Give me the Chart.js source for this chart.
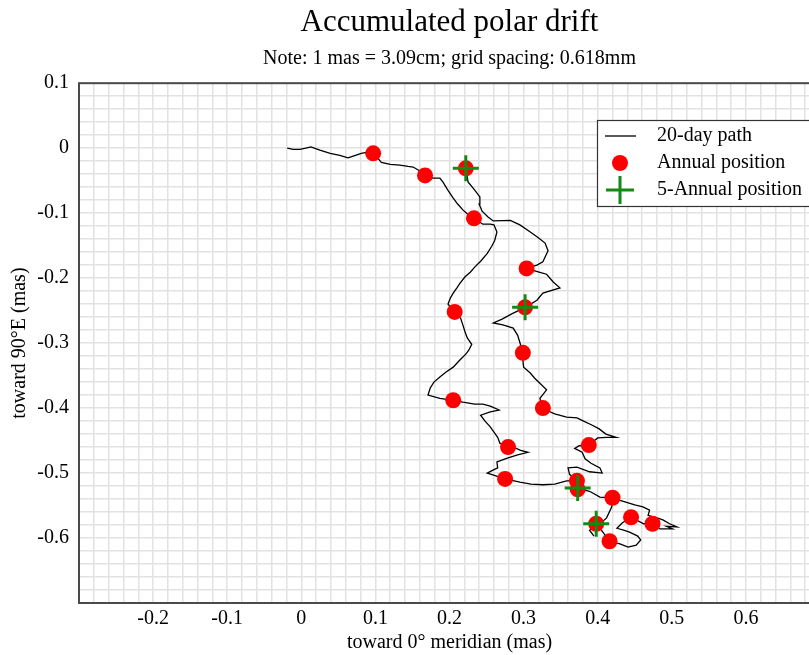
<!DOCTYPE html>
<html>
<head>
<meta charset="utf-8">
<title>Accumulated polar drift</title>
<script src="https://cdn.jsdelivr.net/npm/chart.js@4.4.0/dist/chart.umd.min.js"></script>
<style>
    html, body { margin: 0; padding: 0; background: #fff; overflow: hidden; }
    #wrap { width: 899px; height: 655px; }
</style>
</head>
<body>
<div id="wrap"><canvas id="driftChart" width="899" height="655"></canvas></div>
<script>
// --- Data (mas) ---
// 20-day path, null marks a break in the line
const pathX = [
    -0.019, -0.011, -0.002, 0.006, 0.013, 0.025, 0.039, 0.052, 0.063, 0.071, 0.081, 0.089, 0.097,
    0.103, 0.108, 0.120, 0.133, 0.144, 0.151, 0.160, 0.167,
    0.178, 0.187, 0.191, 0.198, 0.205, 0.211, 0.218, 0.225, 0.233,
    0.245, 0.255, 0.260, 0.264, 0.261, 0.257, 0.251, 0.242, 0.234, 0.228, 0.221, 0.214, 0.210, 0.205, 0.201, 0.198, 0.207,
    0.215, 0.218, 0.221, 0.224, 0.230, 0.226, 0.222, 0.214, 0.205, 0.195, 0.187, 0.179, 0.174, 0.171, 0.187, 0.205,
    0.218, 0.234, 0.245, 0.255, 0.267, 0.255, 0.242, 0.248, 0.255, 0.260, 0.265, 0.268, 0.279,
    0.290, 0.296, 0.306, 0.292, 0.278, 0.264, 0.265, 0.256, 0.251, 0.275,
    0.295, 0.310, 0.326, 0.342, 0.358, 0.372,
    0.362, 0.360, 0.372, 0.389, 0.406, 0.403, 0.391, 0.383, 0.379, 0.369, 0.375, 0.388,
    0.400, 0.412, 0.425, 0.411, 0.402, 0.392, 0.381, 0.372, 0.358, 0.342, 0.330, 0.326,
    0.322, 0.331, 0.323, 0.315, 0.309, 0.300, 0.299, 0.299,
    0.296, 0.292, 0.286, 0.272, 0.259, 0.271, 0.284, 0.302,
    0.318, 0.326, 0.349, 0.340, 0.331, 0.322, 0.304,
    0.318, 0.326, 0.333, 0.329, 0.319, 0.309, 0.295, 0.282, 0.259, 0.252, 0.244, 0.240, 0.241, 0.233, 0.225, 0.222,
    null,
    0.372, 0.373, 0.381, 0.389, 0.403, 0.420,
    0.430, 0.439, 0.450, 0.461, 0.470, 0.468, 0.480, 0.488, 0.497, 0.507, 0.493, 0.501, 0.484, 0.474,
    0.462, 0.445, 0.433, 0.426, 0.435, 0.443, 0.454, 0.458, 0.452, 0.441, 0.430, 0.416,
    0.407, 0.398, 0.407, 0.412, 0.419, 0.420,
    null,
    0.398, 0.389, 0.395
];
const pathY = [
    0.000, -0.002, -0.002, 0.000, 0.002, -0.003, -0.008, -0.011, -0.015, -0.012, -0.008, -0.006, -0.008,
    -0.015, -0.022, -0.025, -0.026, -0.028, -0.029, -0.035, -0.042,
    -0.046, -0.046, -0.052, -0.065, -0.077, -0.086, -0.095, -0.102, -0.108,
    -0.117, -0.117, -0.118, -0.129, -0.142, -0.151, -0.162, -0.174, -0.183, -0.191, -0.198, -0.208, -0.215, -0.223, -0.231, -0.240, -0.252,
    -0.262, -0.272, -0.283, -0.292, -0.302, -0.311, -0.317, -0.326, -0.337, -0.345, -0.352, -0.360, -0.369, -0.380, -0.385, -0.388,
    -0.391, -0.394, -0.394, -0.397, -0.403, -0.406, -0.411, -0.420, -0.429, -0.437, -0.445, -0.454, -0.460,
    -0.462, -0.465, -0.468, -0.472, -0.477, -0.483, -0.492, -0.497, -0.500, -0.509,
    -0.514, -0.517, -0.518, -0.517, -0.512, -0.512,
    -0.502, -0.492, -0.491, -0.498, -0.500, -0.492, -0.485, -0.478, -0.468, -0.462, -0.458, -0.457,
    -0.446, -0.445, -0.445, -0.440, -0.432, -0.426, -0.420, -0.415, -0.414, -0.409, -0.403, -0.400,
    -0.385, -0.372, -0.363, -0.354, -0.346, -0.337, -0.326, -0.315,
    -0.303, -0.288, -0.277, -0.272, -0.269, -0.263, -0.255, -0.245,
    -0.234, -0.223, -0.215, -0.206, -0.194, -0.191, -0.185,
    -0.180, -0.175, -0.158, -0.146, -0.137, -0.129, -0.118, -0.111, -0.112, -0.106, -0.097, -0.086, -0.075, -0.063, -0.052, -0.031,
    null,
    -0.512, -0.525, -0.526, -0.528, -0.537, -0.538,
    -0.542, -0.545, -0.549, -0.552, -0.557, -0.565, -0.569, -0.572, -0.578, -0.583, -0.582, -0.586, -0.586, -0.578,
    -0.578, -0.568, -0.577, -0.585, -0.588, -0.591, -0.597, -0.603, -0.611, -0.614, -0.609, -0.605,
    -0.591, -0.578, -0.574, -0.569, -0.552, -0.538,
    null,
    -0.578, -0.588, -0.597
];

// annual positions
const annualX = [0.097, 0.167, 0.222, 0.233, 0.304, 0.302, 0.207, 0.299, 0.326, 0.205,
                 0.279, 0.388, 0.275, 0.372, 0.373, 0.420, 0.445, 0.474, 0.398, 0.416];
const annualY = [-0.008, -0.042, -0.031, -0.108, -0.185, -0.245, -0.252, -0.315, -0.400, -0.388,
                 -0.460, -0.457, -0.509, -0.512, -0.525, -0.538, -0.568, -0.578, -0.578, -0.605];

// 5-annual positions
const fiveX = [0.222, 0.302, 0.373, 0.398];
const fiveY = [-0.031, -0.245, -0.523, -0.578];

// axis ranges and grid step
const xRange = [-0.3, 0.7];
const yRange = [-0.7, 0.1];
const gridStep = 0.02;

const legendLabels = ['20-day path', 'Annual position', '5-Annual position'];

const FONT = "'Liberation Serif', 'Times New Roman', serif";
const RED = '#ff0000';
const GREEN = '#138a13';
const GRID = '#e2e2e2';

function toPoints(xs, ys) {
    return xs.map((x, i) => ({ x: x, y: ys[i] }));
}

// only label every 0.1, and not the lower/left edge
function tenthLabel(v, lo) {
    const t = v * 10;
    if (Math.abs(t - Math.round(t)) > 1e-6) return '';
    if (Math.abs(v - lo) < 1e-6) return '';
    return String(Math.round(t) / 10);
}

// --- Frame around the plot ---
const framePlugin = {
    id: 'frame',
    afterDatasetsDraw(chart) {
        const { ctx, chartArea: a } = chart;
        ctx.save();
        ctx.strokeStyle = '#4a4a4a';
        ctx.lineWidth = 2;
        ctx.strokeRect(a.left, a.top, a.right - a.left, a.bottom - a.top);
        ctx.restore();
    }
};

// --- Legend box inside the plot ---
const boxLegendPlugin = {
    id: 'boxLegend',
    afterDraw(chart) {
        const ctx = chart.ctx;
        const bx = 597, by = 120, bw = 300, bh = 86;
        ctx.save();
        ctx.fillStyle = '#fff';
        ctx.fillRect(bx, by, bw, bh);
        ctx.strokeStyle = '#333';
        ctx.lineWidth = 1.2;
        ctx.strokeRect(bx + 0.5, by + 0.5, bw, bh);

        const rows = [136, 163, 190];
        const sx = 620;

        // line sample
        ctx.strokeStyle = '#000';
        ctx.lineWidth = 1.3;
        ctx.beginPath();
        ctx.moveTo(605, rows[0]);
        ctx.lineTo(636, rows[0]);
        ctx.stroke();

        // dot sample
        ctx.fillStyle = RED;
        ctx.beginPath();
        ctx.arc(sx, rows[1], 8, 0, Math.PI * 2);
        ctx.fill();

        // cross sample
        ctx.strokeStyle = GREEN;
        ctx.lineWidth = 3;
        ctx.beginPath();
        ctx.moveTo(sx - 14, rows[2]);
        ctx.lineTo(sx + 14, rows[2]);
        ctx.moveTo(sx, rows[2] - 14);
        ctx.lineTo(sx, rows[2] + 14);
        ctx.stroke();

        ctx.fillStyle = '#000';
        ctx.font = '20px ' + FONT;
        ctx.textBaseline = 'middle';
        ctx.textAlign = 'left';
        legendLabels.forEach((t, i) => ctx.fillText(t, 657, rows[i]));
        ctx.restore();
    }
};

// --- Chart ---
const ctx = document.getElementById('driftChart').getContext('2d');
const driftChart = new Chart(ctx, {
    type: 'scatter',
    data: {
        datasets: [
            {
                label: legendLabels[0],
                data: toPoints(pathX, pathY),
                showLine: true,
                spanGaps: false,
                borderColor: '#000',
                borderWidth: 1.3,
                pointRadius: 0,
                order: 3
            },
            {
                label: legendLabels[1],
                data: toPoints(annualX, annualY),
                pointStyle: 'circle',
                pointRadius: 8,
                backgroundColor: RED,
                borderColor: RED,
                borderWidth: 0,
                order: 2
            },
            {
                label: legendLabels[2],
                data: toPoints(fiveX, fiveY),
                pointStyle: 'cross',
                pointRadius: 13,
                borderColor: GREEN,
                borderWidth: 3,
                order: 1
            }
        ]
    },
    options: {
        responsive: false,
        animation: false,
        events: [],
        layout: { padding: 0 },
        plugins: {
            legend: { display: false },
            tooltip: { enabled: false },
            title: {
                display: true,
                text: 'Accumulated polar drift',
                color: '#000',
                font: { family: FONT, size: 31, weight: 'normal' },
                padding: { top: 4, bottom: 0 }
            },
            subtitle: {
                display: true,
                text: 'Note: 1 mas = 3.09cm; grid spacing: 0.618mm',
                color: '#000',
                font: { family: FONT, size: 20 },
                padding: { top: 6, bottom: 12 }
            }
        },
        scales: {
            x: {
                type: 'linear',
                min: xRange[0],
                max: xRange[1],
                afterFit: (s) => { s.height = 52; },
                grid: { color: GRID, lineWidth: 1.5, drawTicks: false },
                border: { display: false },
                ticks: {
                    stepSize: gridStep,
                    autoSkip: false,
                    maxRotation: 0,
                    padding: 4,
                    color: '#000',
                    font: { family: FONT, size: 20 },
                    callback: (v) => (Math.abs(v - xRange[1]) < 1e-6 ? '' : tenthLabel(v, xRange[0]))
                },
                title: {
                    display: true,
                    text: 'toward 0\u00b0 meridian (mas)',
                    color: '#000',
                    font: { family: FONT, size: 20 },
                    padding: { top: 0, bottom: 0 }
                }
            },
            y: {
                type: 'linear',
                min: yRange[0],
                max: yRange[1],
                afterFit: (s) => { s.width = 79; },
                grid: { color: GRID, lineWidth: 1.5, drawTicks: false },
                border: { display: false },
                ticks: {
                    stepSize: gridStep,
                    autoSkip: false,
                    padding: 10,
                    color: '#000',
                    font: { family: FONT, size: 20 },
                    callback: (v) => tenthLabel(v, yRange[0])
                },
                title: {
                    display: true,
                    text: 'toward 90\u00b0E (mas)',
                    color: '#000',
                    font: { family: FONT, size: 20 },
                    padding: { top: 8, bottom: 0 }
                }
            },
            // empty axis on the right so the plot keeps its width
            yRight: {
                type: 'linear',
                position: 'right',
                afterFit: (s) => { s.width = 79; },
                grid: { display: false, drawTicks: false },
                border: { display: false },
                ticks: { display: false }
            }
        }
    },
    plugins: [framePlugin, boxLegendPlugin]
});
</script>
</body>
</html>
